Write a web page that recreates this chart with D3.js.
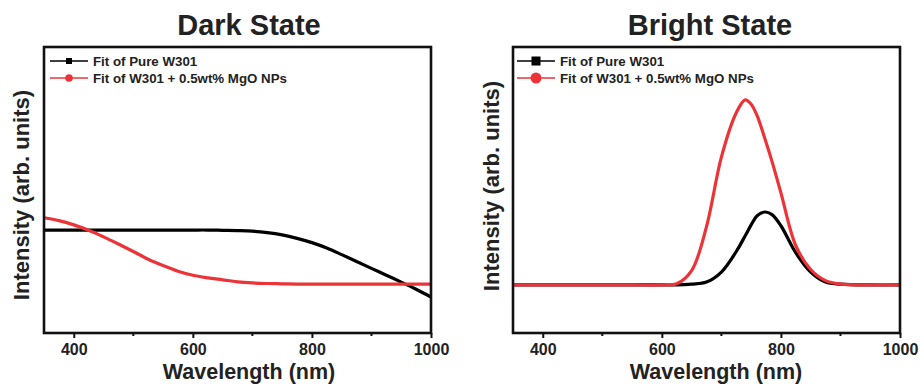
<!DOCTYPE html>
<html>
<head>
<meta charset="utf-8">
<script src="https://cdn.jsdelivr.net/npm/d3@7"></script>
<style>
  body { margin: 0; background: #fff; }
  svg { display: block; font-family: "Liberation Sans", Arial, sans-serif; }
</style>
</head>
<body>
<svg id="chart" width="921" height="387"></svg>
<script>
// values (intensity in arbitrary units, 0 = bottom of frame, 1 = top)
const seriesNames = ["Fit of Pure W301", "Fit of W301 + 0.5wt% MgO NPs"];
const titles = ["Dark State", "Bright State"];
const xTicks = [400, 600, 800, 1000];
const xMinorTicks = [500, 700, 900];

const darkWavelength = [350, 375, 400, 425, 450, 475, 500, 525, 550, 575, 600, 625, 650, 675, 700, 725, 750, 775, 800, 825, 850, 875, 900, 925, 950, 975, 1000];
const darkPure = [0.360, 0.360, 0.360, 0.360, 0.360, 0.360, 0.360, 0.360, 0.360, 0.360, 0.360, 0.360, 0.359, 0.358, 0.356, 0.351, 0.343, 0.331, 0.316, 0.297, 0.274, 0.250, 0.226, 0.202, 0.178, 0.153, 0.126];
const darkMgO = [0.403, 0.393, 0.378, 0.359, 0.336, 0.311, 0.285, 0.258, 0.236, 0.216, 0.202, 0.193, 0.186, 0.179, 0.175, 0.173, 0.172, 0.171, 0.171, 0.171, 0.171, 0.171, 0.171, 0.171, 0.171, 0.171, 0.171];

const brightWavelength = [350, 400, 450, 500, 550, 600, 625, 650, 675, 700, 725, 740, 750, 760, 773, 785, 800, 825, 850, 875, 900, 950, 1000];
const brightPure = [0.168, 0.168, 0.168, 0.168, 0.168, 0.168, 0.168, 0.171, 0.178, 0.213, 0.285, 0.340, 0.378, 0.410, 0.423, 0.414, 0.375, 0.280, 0.213, 0.178, 0.171, 0.168, 0.168];
const brightMgO = [0.168, 0.168, 0.168, 0.168, 0.168, 0.168, 0.172, 0.218, 0.372, 0.615, 0.770, 0.815, 0.800, 0.760, 0.680, 0.600, 0.490, 0.305, 0.222, 0.183, 0.171, 0.168, 0.168];

const colors = ["#000000", "#ec3338"];

const svg = d3.select("#chart");
svg.append("rect").attr("width", 921).attr("height", 387).attr("fill", "#fff");

const panels = [
  { x0: 44, x1: 431, titleX: 249, labelX: 249, yLabelX: 21, yLabelY: 195, legendX: 50, markerBig: false,
    wl: darkWavelength, series: [darkPure, darkMgO] },
  { x0: 513, x1: 900, titleX: 710, labelX: 716, yLabelX: 491, yLabelY: 186, legendX: 517, markerBig: true,
    wl: brightWavelength, series: [brightPure, brightMgO] }
];
const plotTop = 47, plotBottom = 333;

panels.forEach((p, pi) => {
  const x = d3.scaleLinear().domain([350, 1000]).range([p.x0, p.x1]);
  const y = d3.scaleLinear().domain([0, 1]).range([plotBottom, plotTop]);
  const g = svg.append("g");

  // curves
  const line = d3.line()
    .curve(d3.curveCatmullRom.alpha(0.5))
    .x((d, i) => x(p.wl[i]))
    .y(d => y(d));
  p.series.forEach((s, si) => {
    g.append("path")
      .attr("d", line(s))
      .attr("fill", "none")
      .attr("stroke", colors[si])
      .attr("stroke-width", 3.2)
      .attr("stroke-linejoin", "round");
  });

  // x axis
  const axis = g.append("g")
    .attr("transform", `translate(0,${plotBottom})`)
    .call(d3.axisBottom(x).tickValues(xTicks).tickSize(5).tickPadding(6).tickFormat(d3.format("d")));
  axis.select(".domain").remove();
  axis.selectAll("line").attr("stroke", "#111").attr("stroke-width", 2);
  axis.selectAll("text")
    .attr("font-size", 16)
    .attr("font-weight", "bold")
    .attr("fill", "#222")
    .attr("font-family", "'Liberation Sans', Arial, sans-serif");
  g.append("g").selectAll("line")
    .data(xMinorTicks)
    .enter().append("line")
    .attr("x1", d => x(d)).attr("x2", d => x(d))
    .attr("y1", plotBottom).attr("y2", plotBottom + 3)
    .attr("stroke", "#111").attr("stroke-width", 2);

  // frame
  g.append("rect")
    .attr("x", p.x0).attr("y", plotTop)
    .attr("width", p.x1 - p.x0).attr("height", plotBottom - plotTop)
    .attr("fill", "none").attr("stroke", "#111").attr("stroke-width", 2.6);

  // title
  g.append("text")
    .attr("x", p.titleX).attr("y", 35)
    .attr("text-anchor", "middle")
    .attr("font-size", 29).attr("font-weight", "bold").attr("fill", "#222")
    .text(titles[pi]);

  // axis labels
  g.append("text")
    .attr("x", p.labelX).attr("y", 379)
    .attr("text-anchor", "middle")
    .attr("font-size", 21.5).attr("font-weight", "bold").attr("fill", "#222")
    .text("Wavelength (nm)");
  g.append("text")
    .attr("transform", `translate(${p.yLabelX},${p.yLabelY}) rotate(-90)`)
    .attr("text-anchor", "middle")
    .attr("dy", "0.35em")
    .attr("font-size", 22).attr("font-weight", "bold").attr("fill", "#222")
    .text("Intensity (arb. units)");

  // legend
  const leg = g.append("g").attr("transform", `translate(${p.legendX},0)`);
  const rows = [61, 78];
  seriesNames.forEach((name, si) => {
    const ly = rows[si];
    leg.append("line")
      .attr("x1", 0).attr("x2", 38).attr("y1", ly).attr("y2", ly)
      .attr("stroke", colors[si]).attr("stroke-width", 1.5);
    if (si === 0) {
      const s = p.markerBig ? 9 : 6;
      leg.append("rect")
        .attr("x", 19 - s / 2).attr("y", ly - s / 2)
        .attr("width", s).attr("height", s)
        .attr("fill", colors[si]);
    } else {
      leg.append("circle")
        .attr("cx", 19).attr("cy", ly)
        .attr("r", p.markerBig ? 5.5 : 3.8)
        .attr("fill", colors[si]);
    }
    leg.append("text")
      .attr("x", 43).attr("y", ly)
      .attr("dy", "0.35em")
      .attr("font-size", 13.3).attr("font-weight", "bold").attr("fill", "#222")
      .text(name);
  });
});
</script>
</body>
</html>
